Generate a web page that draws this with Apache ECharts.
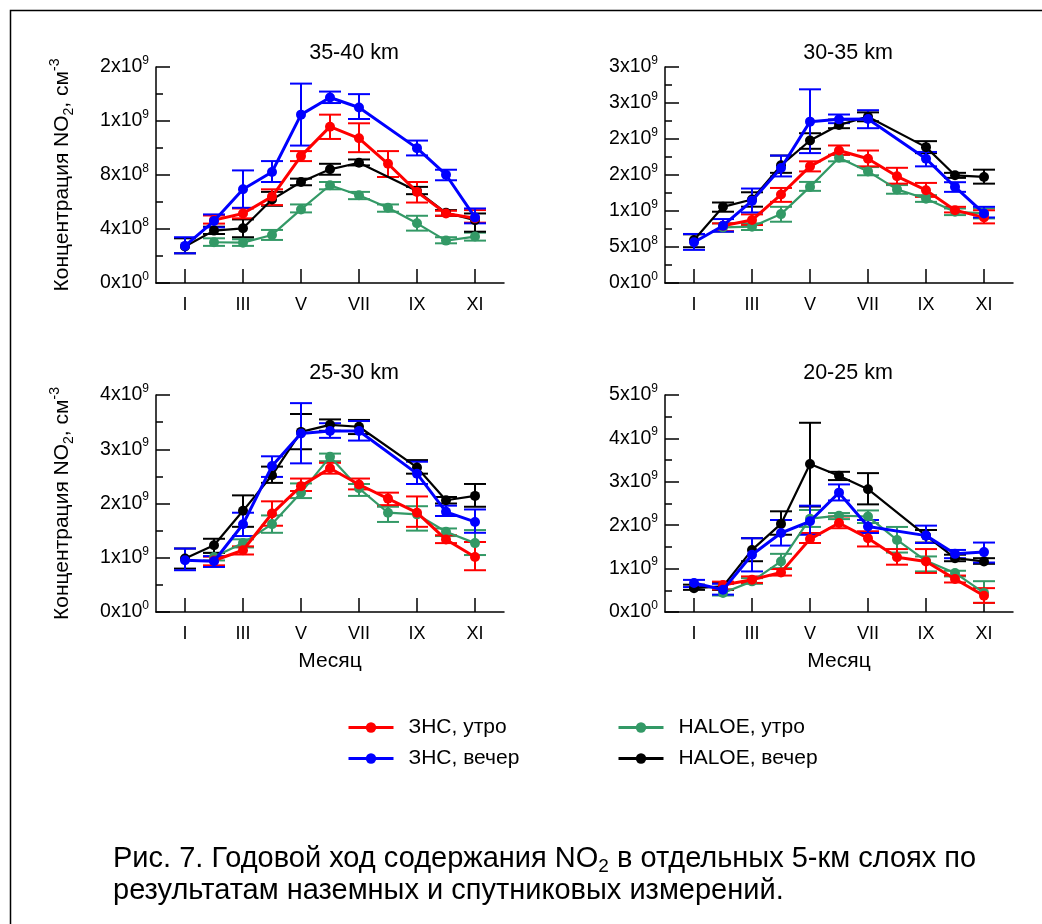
<!DOCTYPE html>
<html><head><meta charset="utf-8">
<script src="https://cdn.jsdelivr.net/npm/echarts@6/dist/echarts.min.js"></script>
<style>html,body{margin:0;padding:0;background:#fff}#c{width:1042px;height:924px}</style>
</head><body><div id="c"></div>
<script>
// ---------- data ----------
const MONTHS = ['I','II','III','IV','V','VI','VII','VIII','IX','X','XI'];
const MONTH_TICKS = [1, 3, 5, 7, 9, 11];
const SERIES_NAMES = ['ЗНС, утро', 'ЗНС, вечер', 'HALOE, утро', 'HALOE, вечер'];
const PANEL_TITLES = ['35-40 km', '30-35 km', '25-30 km', '20-25 km'];
const Y_MAX = [1.6e9, 3e9, 4e9, 5e9];
const Y_STEP = [4e8, 5e8, 1e9, 1e9];
const UNIT = 1e8; // values below are in 1e8 cm^-3 : [value, low, high], months I..XI

// 35-40 km
const p1_znsAm = [null,[4.66,4.4,5.0],[5.15,4.79,5.52],[6.4,5.77,6.94],[9.4,9.03,9.77],[11.58,10.67,12.47],[10.72,9.69,11.83],[8.83,7.85,9.77],[6.75,5.96,7.48],[5.15,4.98,5.35],[4.79,4.47,5.4]];
const p1_znsPm = [[2.75,2.2,3.39],[4.59,4.12,5.08],[6.94,5.57,8.34],[8.22,7.48,9.03],[12.47,10.18,14.77],[13.74,13.33,14.18],[13.0,12.15,13.99],null,[9.99,9.45,10.55],[8.02,7.61,8.39],[4.86,4.42,5.52]];
const p1_haloeAm = [null,[3.02,2.75,3.31],[2.99,2.75,3.24],[3.56,3.19,3.93],[5.45,5.23,5.82],[7.24,6.94,7.48],[6.5,6.21,6.75],[5.57,5.28,5.82],[4.42,3.88,4.98],[3.14,2.94,3.39],[3.44,3.14,3.73]];
const p1_haloePm = [[2.7,2.2,3.31],[3.88,3.63,4.17],[4.05,3.39,4.71],[6.18,5.72,6.75],[7.48,7.24,7.73],[8.42,8.02,8.83],[8.91,8.71,9.15],null,[6.82,6.58,7.12],[5.2,4.98,5.4],[4.66,3.8,5.15]];
// 30-35 km
const p2_znsAm = [null,[7.96,7.2,8.28],[8.74,8.05,9.53],[12.29,11.27,13.2],[16.2,15.5,16.9],[18.41,17.8,19.1],[17.26,16.2,18.4],[14.82,13.8,16.0],[12.89,11.96,13.9],[10.12,9.8,10.58],[9.11,8.28,10.1]];
const p2_znsPm = [[5.66,4.6,6.81],[7.96,7.13,8.88],[11.41,9.8,13.12],[15.97,14.8,17.7],[22.41,18.04,26.9],[22.73,22.2,23.4],[22.78,21.5,24.0],null,[17.26,16.2,18.2],[13.35,12.66,14.0],[9.66,9.1,10.58]];
const p2_haloeAm = [null,[7.73,7.13,8.28],[7.82,7.36,8.28],[9.57,8.51,10.58],[13.35,12.8,14.04],[17.4,16.9,17.8],[15.5,14.96,16.1],[13.0,12.4,13.6],[11.7,11.27,12.2],[9.89,9.43,10.35],[9.66,8.97,10.35]];
const p2_haloePm = [[5.98,4.97,6.76],[10.58,9.9,11.18],[11.6,10.6,12.6],[16.34,15.3,17.7],[19.79,18.64,20.8],[21.95,21.5,22.7],[23.1,22.46,23.7],null,[18.87,18.04,19.7],[14.96,14.6,15.3],[14.73,13.8,15.74]];
// 25-30 km
const p3_znsAm = [null,[9.5,8.6,10.2],[11.38,10.6,12.1],[18.15,15.9,20.4],[23.2,22.3,24.6],[26.5,25.5,27.5],[23.5,22.6,24.6],[20.9,19.7,22.0],[18.3,15.7,21.3],[13.35,12.7,14.15],[10.15,7.7,12.9]];
const p3_znsPm = [[9.54,7.7,11.7],[9.35,8.3,10.3],[16.18,14.0,18.3],[26.9,24.9,28.7],[32.9,27.4,38.5],[33.35,32.1,34.8],[33.35,31.6,35.2],null,[25.5,23.6,27.7],[18.46,17.7,19.6],[16.6,14.6,18.9]];
const p3_haloeAm = [null,[10.15,9.5,10.9],[12.7,11.9,13.4],[16.2,14.6,17.8],[22.0,21.0,23.7],[28.6,27.8,29.2],[22.8,21.4,23.6],[18.3,16.6,19.4],[18.0,15.0,19.5],[14.8,14.0,15.4],[12.7,10.5,15.1]];
const p3_haloePm = [[9.85,8.0,11.7],[12.3,10.9,13.5],[18.65,15.7,21.5],[25.2,23.8,26.8],[33.2,30.0,36.5],[34.5,33.4,35.5],[34.15,32.8,35.4],null,[26.65,25.5,28.0],[20.6,20.0,21.2],[21.4,19.4,23.6]];
// 20-25 km
const p4_znsAm = [null,[6.2,5.2,7.0],[7.44,6.7,8.2],[9.13,8.4,9.9],[16.8,15.9,18.2],[20.5,19.3,22.0],[17.0,15.1,18.6],[12.6,10.9,14.5],[11.65,9.0,14.5],[7.6,6.8,8.4],[3.76,2.1,5.5]];
const p4_znsPm = [[6.67,5.75,7.4],[5.14,4.0,6.5],[13.2,9.35,17.0],[18.2,15.3,21.2],[20.9,17.8,24.5],[27.5,25.7,29.4],[19.7,18.2,21.2],null,[17.6,15.9,19.9],[13.4,12.4,14.3],[13.8,11.4,16.0]];
const p4_haloeAm = [null,[4.4,3.8,5.1],[7.06,6.5,7.8],[11.65,10.1,13.4],[21.5,19.6,23.5],[22.2,21.4,22.8],[22.0,20.5,23.4],[16.6,13.7,19.6],[11.8,9.35,12.8],[9.0,8.2,9.5],[4.4,2.1,7.1]];
const p4_haloePm = [[5.5,5.1,6.3],[5.9,5.1,6.8],[14.3,11.7,17.0],[20.3,17.8,23.2],[34.1,24.3,43.6],[31.4,30.4,32.3],[28.3,24.8,32.0],null,[17.6,16.0,18.9],[12.4,11.7,13.2],[11.65,11.1,12.4]];

const PANEL_DATA = [
  [p1_znsAm, p1_znsPm, p1_haloeAm, p1_haloePm],
  [p2_znsAm, p2_znsPm, p2_haloeAm, p2_haloePm],
  [p3_znsAm, p3_znsPm, p3_haloeAm, p3_haloePm],
  [p4_znsAm, p4_znsPm, p4_haloeAm, p4_haloePm]
];

// ---------- layout / style ----------
const FONT = '"Liberation Sans", Arial, Helvetica, sans-serif';
const COLORS = ['#ff0000', '#0000ff', '#339966', '#000000'];
const LINE_W = [3, 3, 2.2, 2.2];
const Z_ORDER = [4, 5, 2, 3];
const GRIDS = [
  {left: 156, top: 67, width: 348, height: 216},
  {left: 665, top: 67, width: 348, height: 216},
  {left: 156, top: 395, width: 348, height: 217},
  {left: 665, top: 395, width: 348, height: 217}
];
const TITLE_POS = [[354, 53], [848, 53], [354, 373], [848, 373]];

function sciLabel(v) {
  if (v === 0) return '{m|0x10}{e|0}';
  const e = Math.floor(Math.log10(v) + 1e-9);
  const m = Math.round(v / Math.pow(10, e));
  return '{m|' + m + 'x10}{e|' + e + '}';
}

const grid = [], xAxis = [], yAxis = [], lineSeries = [], errSeries = [];
GRIDS.forEach((g, i) => {
  grid.push(Object.assign({}, g));
  xAxis.push({
    type: 'value', gridIndex: i, min: 0, max: 12,
    axisLine: {show: true, onZero: false, lineStyle: {color: '#000', width: 1.5}},
    axisTick: {show: true, inside: true, length: 14, customValues: MONTH_TICKS, lineStyle: {color: '#000', width: 1.5}},
    axisLabel: {customValues: MONTH_TICKS, formatter: v => MONTHS[Math.round(v) - 1], margin: 13,
      fontSize: 18, color: '#000', fontFamily: FONT},
    splitLine: {show: false},
    name: i >= 2 ? 'Месяц' : '', nameLocation: 'middle', nameGap: 39,
    nameTextStyle: {fontSize: 21, color: '#000', fontFamily: FONT}
  });
  yAxis.push({
    type: 'value', gridIndex: i, min: 0, max: Y_MAX[i], interval: Y_STEP[i],
    axisLine: {show: true, onZero: false, lineStyle: {color: '#000', width: 1.5}},
    axisTick: {show: true, inside: true, length: 14, lineStyle: {color: '#000', width: 1.5}},
    minorTick: {show: true, splitNumber: 2, length: 7, lineStyle: {color: '#000', width: 1.5}},
    axisLabel: {formatter: sciLabel, margin: 7, color: '#000', fontFamily: FONT,
      rich: {
        m: {fontSize: 19.5, lineHeight: 25, color: '#000', fontFamily: FONT},
        e: {fontSize: 12, lineHeight: 12, verticalAlign: 'top', color: '#000', fontFamily: FONT}
      }},
    splitLine: {show: false},
    name: (i % 2 === 0) ? 'Концентрация NO{sub|2}, см{sup|-3}' : '',
    nameLocation: 'middle', nameRotate: 90, nameGap: 80,
    nameTextStyle: {fontSize: 21, color: '#000', fontFamily: FONT, lineHeight: 28,
      rich: {
        sub: {fontSize: 14, lineHeight: 14, verticalAlign: 'bottom', color: '#000', fontFamily: FONT},
        sup: {fontSize: 14, lineHeight: 14, verticalAlign: 'top', color: '#000', fontFamily: FONT}
      }}
  });
  PANEL_DATA[i].forEach((arr, s) => {
    const pts = [], bars = [];
    arr.forEach((p, k) => {
      if (!p) return;
      pts.push([k + 1, p[0] * UNIT]);
      bars.push([k + 1, p[1] * UNIT, p[2] * UNIT]);
    });
    lineSeries.push({
      type: 'line', name: SERIES_NAMES[s], xAxisIndex: i, yAxisIndex: i, data: pts,
      symbol: 'circle', symbolSize: 10, showSymbol: true, z: Z_ORDER[s] + 10,
      lineStyle: {color: COLORS[s], width: LINE_W[s]},
      itemStyle: {color: COLORS[s], borderWidth: 0},
      emphasis: {disabled: true}, animation: false
    });
    const col = COLORS[s];
    errSeries.push({
      type: 'custom', name: SERIES_NAMES[s], xAxisIndex: i, yAxisIndex: i, data: bars,
      z: Z_ORDER[s], silent: true, animation: false,
      encode: {x: 0, y: [1, 2]},
      renderItem: function (params, api) {
        const x = api.value(0);
        const lo = api.coord([x, api.value(1)]);
        const hi = api.coord([x, api.value(2)]);
        const hw = 11;
        const st = {stroke: col, lineWidth: 2, fill: null};
        return {type: 'group', children: [
          {type: 'line', shape: {x1: lo[0], y1: lo[1], x2: hi[0], y2: hi[1]}, style: st},
          {type: 'line', shape: {x1: lo[0] - hw, y1: lo[1], x2: lo[0] + hw, y2: lo[1]}, style: st},
          {type: 'line', shape: {x1: hi[0] - hw, y1: hi[1], x2: hi[0] + hw, y2: hi[1]}, style: st}
        ]};
      }
    });
  });
});

const LEGEND_POS = [[347, 717], [347, 748], [617, 717], [617, 748]];
const legend = SERIES_NAMES.map((n, s) => ({
  data: [n], left: LEGEND_POS[s][0], top: LEGEND_POS[s][1], padding: 0,
  itemWidth: 45, itemHeight: 13, selectedMode: false,
  textStyle: {fontSize: 21, color: '#000', fontFamily: FONT, padding: [0, 0, 0, 10]},
  lineStyle: {width: 3, color: COLORS[s]}, itemStyle: {color: COLORS[s]}
}));

const graphic = [];
PANEL_TITLES.forEach((t, i) => {
  graphic.push({type: 'text', x: TITLE_POS[i][0], y: TITLE_POS[i][1],
    style: {text: t, align: 'center', verticalAlign: 'middle', fill: '#000', fontSize: 21.5, fontFamily: FONT}});
});
graphic.push({type: 'text', x: 113, y: 859, style: {
  text: 'Рис. 7. Годовой ход содержания NO{sub|2} в отдельных 5-км слоях по',
  align: 'left', verticalAlign: 'middle', fill: '#000', fontSize: 29, lineHeight: 34, fontFamily: FONT,
  rich: {sub: {fontSize: 19, lineHeight: 19, verticalAlign: 'bottom', fill: '#000', fontFamily: FONT}}
}});
graphic.push({type: 'text', x: 113, y: 891, style: {
  text: 'результатам наземных и спутниковых измерений.',
  align: 'left', verticalAlign: 'middle', fill: '#000', fontSize: 29, fontFamily: FONT
}});
graphic.push({type: 'polyline', shape: {points: [[10.5, 924], [10.5, 10.5], [1042, 10.5]]},
  style: {stroke: '#000', lineWidth: 1.5, fill: null}});

const chart = echarts.init(document.getElementById('c'), null, {renderer: 'canvas'});
chart.setOption({
  animation: false,
  backgroundColor: '#fff',
  textStyle: {fontFamily: FONT},
  grid, xAxis, yAxis, legend, graphic,
  series: lineSeries.concat(errSeries)
});
</script>
</body></html>
